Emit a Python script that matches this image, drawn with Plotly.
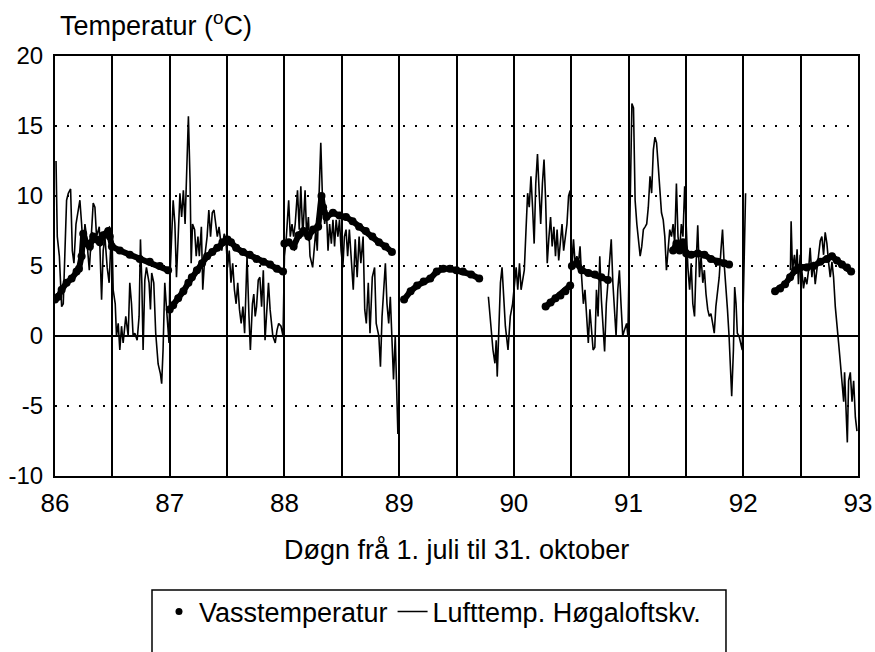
import plotly.graph_objects as go

# ---------------- data (fraction of season 1 Jul - 31 Oct, value in degC) ----------------
year_ticks = [86, 87, 88, 89, 90, 91, 92, 93]
year_labels = ["86", "87", "88", "89", "90", "91", "92", "93"]
y_ticks = [-10, -5, 0, 5, 10, 15, 20]
y_labels = ["-10", "-5", "0", "5", "10", "15", "20"]

# Air temperature, Høgaloftskv.
air86_t = [0.009,0.020,0.038,0.058,0.072,0.087,0.101,0.116,0.136,0.151,0.165,0.183,0.203,0.217,0.232,0.246,0.261,0.275,0.299,0.319,
           0.333,0.348,0.362,0.386,0.406,0.420,0.435,0.455,0.472,0.484,0.496,0.507,0.525,0.536,0.551,0.565,0.580,0.594,0.617,0.638,
           0.652,0.667,0.681,0.696,0.716,0.733,0.745,0.757,0.768,0.783,0.797,0.820,0.832,0.843,0.861,0.878,0.899,0.919,0.930,0.942,
           0.957,0.971,0.986,0.994]
air86_v = [12.5,7.1,5.7,2.1,2.3,7.1,9.7,10.2,10.5,6.1,5.2,8.0,9.0,9.7,8.0,6.1,8.0,7.1,4.7,7.1,
           9.5,9.2,7.1,7.8,2.6,6.1,7.1,4.9,3.8,6.1,7.6,3.3,2.3,0.0,0.9,-1.0,0.7,-0.5,1.4,0.0,
           3.8,2.3,0.0,0.2,-0.3,1.4,6.9,3.8,-1.0,4.0,4.9,3.8,1.9,4.5,3.8,0.2,-2.0,-2.7,-3.4,-1.0,
           3.8,2.1,0.2,-0.5]

air87_t = [0.000,0.015,0.030,0.045,0.059,0.074,0.089,0.104,0.119,0.134,0.148,0.163,0.178,0.187,0.199,0.217,0.231,0.246,0.258,0.276,
           0.288,0.306,0.326,0.341,0.356,0.371,0.386,0.401,0.415,0.430,0.454,0.475,0.490,0.504,0.519,0.534,0.549,0.564,0.579,0.593,
           0.608,0.623,0.638,0.653,0.674,0.691,0.703,0.721,0.733,0.745,0.757,0.772,0.786,0.801,0.816,0.831,0.846,0.861,0.875,0.899,
           0.920,0.935,0.950,0.970,0.988]
air87_v = [3.8,7.1,9.7,8.0,4.2,7.1,10.2,8.5,10.4,8.0,12.1,15.7,10.9,5.2,8.0,7.6,5.7,7.1,5.7,7.8,
           3.3,5.7,7.1,9.0,7.1,8.8,9.0,8.0,7.1,7.8,6.1,7.3,6.9,4.9,6.1,3.8,5.2,3.3,2.3,3.8,
           1.9,0.9,2.1,0.2,5.7,1.4,-1.0,2.3,3.0,1.4,2.1,4.0,4.2,2.1,4.7,-0.3,1.9,3.8,1.9,0.0,
           -0.5,0.4,0.9,0.7,0.0]

air88_t = [0.000,0.017,0.037,0.051,0.066,0.080,0.094,0.114,0.129,0.143,0.160,0.180,0.194,0.209,0.223,0.246,0.257,0.274,0.286,0.303,
           0.317,0.331,0.351,0.366,0.380,0.394,0.409,0.423,0.437,0.451,0.466,0.480,0.494,0.509,0.523,0.537,0.551,0.566,0.583,0.600,
           0.617,0.634,0.651,0.666,0.686,0.700,0.714,0.731,0.746,0.766,0.786,0.800,0.823,0.837,0.851,0.866,0.880,0.894,0.909,0.923,
           0.937,0.951,0.966,0.980,0.989]
air88_v = [5.7,7.1,9.7,7.1,8.0,7.1,8.0,10.4,7.6,10.7,7.1,10.4,7.1,8.5,5.7,4.9,6.1,7.6,6.1,10.4,
           13.8,10.0,8.0,9.0,6.1,8.0,6.6,8.3,6.4,8.3,7.1,8.3,6.1,4.9,7.1,7.6,5.7,7.6,5.7,3.3,
           6.9,4.2,7.1,5.2,7.1,1.9,0.9,3.8,0.2,4.2,4.9,0.9,0.0,-2.2,1.4,3.8,5.2,2.3,0.9,2.8,
           -0.3,-3.1,0.0,-3.4,-7.0]

air89_t = [0.778,0.798,0.818,0.835,0.846,0.855,0.869,0.883,0.897,0.912,0.926,0.949,0.969,0.989]
air89_v = [2.8,0.9,-1.0,-1.95,-0.3,-2.9,1.4,3.8,4.9,2.6,0.7,-1.0,1.4,2.3]

air90_t = [0.020,0.034,0.049,0.063,0.077,0.091,0.106,0.120,0.134,0.149,0.163,0.177,0.191,0.206,0.220,0.234,0.249,0.263,0.277,0.291,
           0.306,0.320,0.334,0.349,0.363,0.377,0.391,0.406,0.420,0.434,0.449,0.463,0.477,0.491,0.506,0.520,0.534,0.549,0.563,0.577,
           0.591,0.606,0.620,0.634,0.649,0.663,0.677,0.691,0.706,0.720,0.734,0.749,0.763,0.777,0.791,0.806,0.820,0.834,0.849,0.863,
           0.877,0.891,0.906,0.920,0.934,0.949,0.963,0.983,0.994]
air90_v = [4.9,3.3,5.2,3.3,4.2,4.7,7.6,10.2,9.2,11.4,9.2,6.6,10.9,13.0,10.4,8.0,10.9,12.6,9.7,5.2,
           7.1,8.5,6.4,7.8,5.7,7.6,5.4,6.6,8.0,6.1,6.9,8.0,10.0,10.4,4.7,6.9,5.2,5.7,5.2,6.4,
           4.2,2.3,3.3,1.4,-0.5,1.9,0.2,-1.0,-0.8,3.3,1.4,5.7,2.6,0.9,-1.1,2.3,3.8,5.2,6.9,3.8,
           1.4,0.0,3.3,4.7,2.3,0.0,0.4,0.9,0.0]

air91_t = [0.014,0.029,0.043,0.057,0.072,0.086,0.101,0.115,0.129,0.144,0.158,0.172,0.187,0.201,0.216,0.230,0.244,0.259,0.273,0.287,
           0.302,0.316,0.330,0.345,0.359,0.374,0.388,0.402,0.417,0.431,0.445,0.460,0.474,0.489,0.503,0.517,0.532,0.546,0.560,0.575,
           0.589,0.603,0.618,0.632,0.647,0.661,0.675,0.690,0.704,0.718,0.733,0.747,0.761,0.776,0.790,0.805,0.819,0.833,0.848,0.862,
           0.876,0.891,0.899,0.914,0.925,0.937,0.948,0.963,0.977,0.991]
air91_v = [10.9,16.6,16.3,9.7,8.0,6.6,5.7,6.4,7.6,7.8,8.0,9.2,11.4,10.2,13.3,14.2,13.8,12.1,10.4,8.8,
           8.3,7.1,4.7,6.1,7.6,7.1,8.0,6.6,10.9,7.1,6.1,8.0,7.1,10.7,7.6,4.9,3.3,5.2,2.3,1.4,
           5.2,7.9,4.2,5.7,3.8,4.7,3.0,1.9,1.4,1.6,0.9,0.2,2.1,3.3,4.2,6.1,7.6,5.2,3.8,1.9,
           0.0,-2.5,-4.3,-1.0,3.5,2.3,0.2,0.0,-0.5,-1.0]

air92_t = [0.020,None,0.411,0.417,0.429,0.446,0.458,0.469,0.481,0.496,0.510,0.525,0.539,0.554,0.569,0.583,0.598,0.612,0.627,0.641,
           0.656,0.671,0.685,0.700,0.714,0.729,0.743,0.758,0.773,0.787,0.802,0.816,0.831,0.845,0.860,0.875,0.883,0.895,0.907,0.918,
           0.933,0.948,0.962,0.977,0.991]
air92_v = [10.2,None,4.7,8.2,4.7,5.8,4.5,6.2,3.7,5.8,4.7,3.4,4.2,3.7,4.7,6.3,4.2,5.3,3.7,4.7,
           5.8,6.8,7.1,5.8,7.4,6.6,5.3,4.2,5.3,4.2,2.1,0.5,-0.5,-1.8,-3.2,-4.7,-2.6,-5.8,-7.6,-3.2,
           -2.6,-4.7,-3.2,-5.8,-6.8]

# Water temperature
w86_t = [0.000,0.029,0.058,0.101,0.145,0.188,0.209,0.232,0.246,0.275,0.304,0.333,0.362,0.391,0.420,0.464,0.478,
         0.496,0.565,0.652,0.739,0.826,0.913,0.986]
w86_v = [2.6,2.8,3.3,3.8,4.1,4.6,4.8,5.7,7.3,6.6,6.4,7.1,6.9,6.7,7.2,7.5,7.1,
         6.4,6.1,5.8,5.5,5.3,5.0,4.7]
w87_t = [0.000,0.030,0.074,0.119,0.163,0.193,0.237,0.282,0.326,0.371,0.415,0.460,0.504,0.534,0.579,0.638,0.697,0.757,0.816,0.875,0.935,0.988]
w87_v = [1.9,2.2,2.7,3.2,3.8,4.2,4.7,5.2,5.7,6.0,6.3,6.7,6.9,6.7,6.3,6.0,5.8,5.5,5.3,5.1,4.8,4.6]
w88_t = [0.000,0.037,0.080,0.123,0.166,0.209,0.251,0.294,0.323,0.337,0.366,0.423,0.480,0.537,0.594,0.651,0.709,0.766,0.823,0.880,0.937]
w88_v = [6.6,6.7,6.4,7.2,7.5,7.1,7.6,7.8,10.0,9.2,8.5,8.8,8.6,8.5,8.2,7.8,7.5,7.1,6.7,6.4,6.0]
w89_t = [0.043,0.100,0.157,0.214,0.271,0.328,0.385,0.442,0.499,0.556,0.627,0.698]
w89_v = [2.6,3.2,3.6,3.9,4.1,4.6,4.8,4.8,4.7,4.6,4.4,4.1]
w90_t = [0.277,0.320,0.363,0.406,0.449,0.491,None,0.506,0.549,0.591,0.649,0.706,0.763,0.820]
w90_v = [2.1,2.4,2.7,2.9,3.2,3.6,None,5.0,5.2,4.7,4.5,4.4,4.2,4.0]
w91_t = [0.388,0.417,0.445,0.474,0.503,0.546,0.603,0.661,0.718,0.776,0.833,0.876]
w91_v = [6.1,6.6,6.1,6.7,5.9,5.8,5.9,5.8,5.5,5.3,5.2,5.1]
w92_t = [0.277,0.321,0.364,0.408,0.452,0.496,0.554,0.612,0.671,0.729,0.773,0.816,0.860,0.904,0.940]
w92_v = [3.2,3.4,3.7,4.2,4.7,4.9,4.9,5.0,5.3,5.5,5.7,5.4,5.1,4.9,4.6]

# ---------------- assemble ----------------
def assemble(groups):
    xs, ys = [], []
    for gi, group in enumerate(groups):
        if gi > 0:
            xs.append(None); ys.append(None)
        for year, ts, vs in group:
            for t, v in zip(ts, vs):
                xs.append(None if t is None else year + t)
                ys.append(v)
    return xs, ys

air_x, air_y = assemble([
    [(86, air86_t, air86_v), (87, air87_t, air87_v), (88, air88_t, air88_v)],
    [(89, air89_t, air89_v), (90, air90_t, air90_v), (91, air91_t, air91_v), (92, air92_t, air92_v)],
])
wat_x, wat_y = assemble([
    [(86, w86_t, w86_v)], [(87, w87_t, w87_v)], [(88, w88_t, w88_v)], [(89, w89_t, w89_v)],
    [(90, w90_t, w90_v)], [(91, w91_t, w91_v)], [(92, w92_t, w92_v)],
])

FONT = "Liberation Sans, Arial, Helvetica, sans-serif"

fig = go.Figure()
fig.add_trace(go.Scatter(x=wat_x, y=wat_y, mode="lines+markers",
                         line=dict(color="black", width=6),
                         marker=dict(color="black", size=8),
                         connectgaps=False, showlegend=False, hoverinfo="skip"))
fig.add_trace(go.Scatter(x=[None], y=[None], mode="markers",
                         marker=dict(color="black", size=7),
                         name="Vasstemperatur"))
fig.add_trace(go.Scatter(x=air_x, y=air_y, mode="lines",
                         line=dict(color="black", width=1.6),
                         connectgaps=False, name="Lufttemp. Høgaloftskv."))

fig.update_layout(
    width=875, height=652,
    margin=dict(l=55, r=17, t=56, b=176, autoexpand=False),
    paper_bgcolor="white", plot_bgcolor="white",
    font=dict(family=FONT, color="black"),
    showlegend=True,
    legend=dict(orientation="h", x=0.1295, xanchor="left", y=-0.3238, yanchor="middle",
                font=dict(size=27, family=FONT), bgcolor="rgba(0,0,0,0)",
                borderwidth=0, itemwidth=30, traceorder="normal"),
)

fig.update_xaxes(
    range=[86, 93], tickmode="array", tickvals=year_ticks, ticktext=year_labels,
    tickfont=dict(size=26), ticks="", ticklabelstandoff=3, automargin=False,
    showgrid=True, gridcolor="black", gridwidth=2,
    minor=dict(tickvals=[86.5, 87.5, 88.5, 89.5, 90.5, 91.5, 92.5],
               showgrid=True, gridcolor="black", gridwidth=2, ticks=""),
    showline=True, mirror=True, linecolor="black", linewidth=2, zeroline=False,
)
fig.update_yaxes(
    range=[-10, 20], tickmode="array", tickvals=y_ticks, ticktext=y_labels,
    tickfont=dict(size=24), ticks="", ticklabelstandoff=5, automargin=False,
    showgrid=True, gridcolor="black", gridwidth=1.5, griddash="2px,10px",
    zeroline=True, zerolinecolor="black", zerolinewidth=1.5,
    showline=True, mirror=True, linecolor="black", linewidth=2,
)

fig.add_annotation(text="Temperatur (<sup>o</sup>C)", xref="paper", yref="paper",
                   x=0.0037, y=1.077, xanchor="left", yanchor="middle",
                   showarrow=False, font=dict(size=27, family=FONT))
fig.add_annotation(text="Døgn frå 1. juli til 31. oktober", xref="paper", yref="paper",
                   x=0.5, y=-0.176, xanchor="center", yanchor="middle",
                   showarrow=False, font=dict(size=27, family=FONT))

# legend frame
fig.add_shape(type="rect", xref="paper", yref="paper",
              x0=0.1208, x1=0.8356, y0=-0.2714, y1=-0.45,
              line=dict(color="black", width=1.5), fillcolor="rgba(0,0,0,0)")

# remove the page's default 8px body margin so the figure sits at the window origin
fig.write_html("out.html",
               config={"displayModeBar": False, "staticPlot": True},
               post_script="document.body.style.margin='0';document.body.style.overflow='hidden';")
